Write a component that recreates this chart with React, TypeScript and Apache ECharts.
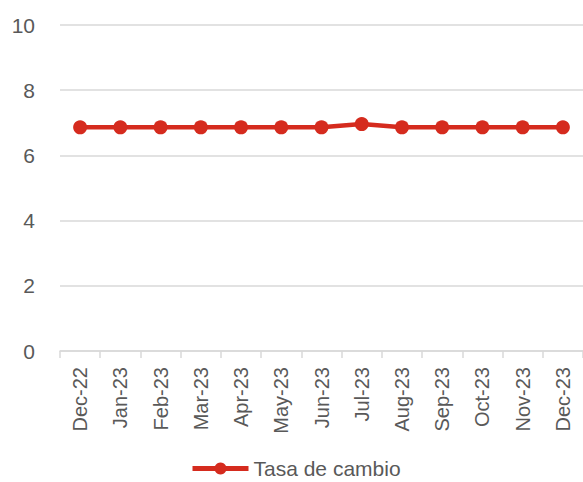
import React, { useEffect, useRef } from "react";
import * as echarts from "echarts";

const categories = ["Dec-22", "Jan-23", "Feb-23", "Mar-23", "Apr-23", "May-23", "Jun-23", "Jul-23", "Aug-23", "Sep-23", "Oct-23", "Nov-23", "Dec-23"];
const tasaDeCambio = [6.86, 6.86, 6.86, 6.86, 6.86, 6.86, 6.86, 6.96, 6.86, 6.86, 6.86, 6.86, 6.86];
const seriesName = "Tasa de cambio";

export default function App() {
  const ref = useRef<HTMLDivElement>(null);
  useEffect(() => {
    if (!ref.current) return;
    const chart = echarts.init(ref.current, null, { renderer: "svg" });
    const font = "'Liberation Sans', Arial, sans-serif";
    chart.setOption({
      animation: false,
      textStyle: { fontFamily: font },
      grid: { left: 60, top: 25, width: 533, height: 326, containLabel: false },
      legend: {
        top: 453,
        left: 185,
        data: [seriesName],
        itemWidth: 56,
        itemHeight: 15,
        itemGap: 4,
        lineStyle: { width: 5 },
        textStyle: { fontSize: 21, color: "#595959", fontFamily: font },
      },
      xAxis: {
        type: "category",
        data: categories,
        boundaryGap: true,
        axisLine: { lineStyle: { color: "#d9d9d9", width: 1.5 } },
        axisTick: { show: true, length: 7, lineStyle: { color: "#d9d9d9", width: 1.5 } },
        axisLabel: { rotate: 90, fontSize: 20, color: "#595959", margin: 16, fontFamily: font },
      },
      yAxis: {
        type: "value",
        min: 0,
        max: 10,
        interval: 2,
        axisLine: { show: false },
        axisTick: { show: false },
        splitLine: { lineStyle: { color: "#d9d9d9", width: 1.5 } },
        axisLabel: { fontSize: 21, color: "#595959", margin: 25, fontFamily: font },
      },
      series: [
        {
          name: seriesName,
          type: "line",
          data: tasaDeCambio,
          symbol: "circle",
          symbolSize: 14,
          itemStyle: { color: "#d52b1e" },
          lineStyle: { color: "#d52b1e", width: 4.5 },
        },
      ],
    });
    return () => chart.dispose();
  }, []);
  return <div ref={ref} style={{ width: 583, height: 482, position: "absolute", left: 0, top: 0 }} />;
}
